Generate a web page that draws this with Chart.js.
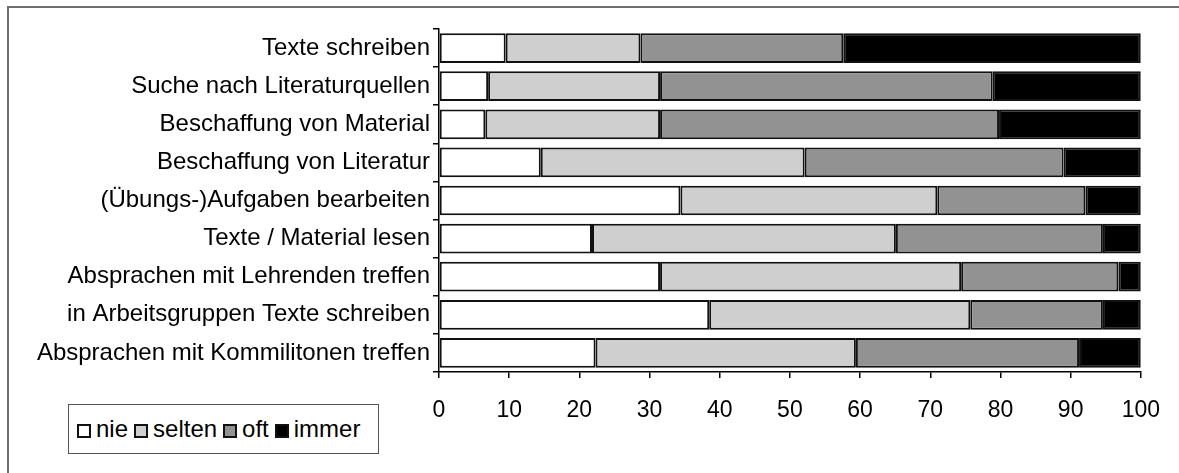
<!DOCTYPE html>
<html>
<head>
<meta charset="utf-8">
<script src="https://cdn.jsdelivr.net/npm/chart.js@4"></script>
<style>
  html, body { margin:0; padding:0; background:#fff; overflow:hidden; }
  #wrap { position:relative; width:1179px; height:473px; font-family:"Liberation Sans", Arial, sans-serif; }
  #rahmen { position:absolute; left:7px; top:6px; width:1300px; height:600px; border:2px solid #6e6e6e; box-sizing:border-box; }
  #chartCanvas { position:absolute; left:0; top:0; }
  #legende { position:absolute; left:68px; top:404px; width:311px; height:50px; border:1px solid #555; box-sizing:border-box; background:#fff;
    display:flex; align-items:center; padding-left:8px; font-size:24px; color:#000; white-space:nowrap; }
  #legende span.item { display:flex; align-items:center; margin-right:6px; }
  #legende span.box { display:inline-block; width:10px; height:10px; border:2px solid #111; margin-right:5px; margin-top:3px; }
</style>
</head>
<body>
<div id="wrap">
  <div id="rahmen"></div>
  <canvas id="chartCanvas" width="1179" height="473"></canvas>
  <div id="legende"></div>
</div>
<script>
const kategorien = [
  "Texte schreiben",
  "Suche nach Literaturquellen",
  "Beschaffung von Material",
  "Beschaffung von Literatur",
  "(Übungs-)Aufgaben bearbeiten",
  "Texte / Material lesen",
  "Absprachen mit Lehrenden treffen",
  "in Arbeitsgruppen Texte schreiben",
  "Absprachen mit Kommilitonen treffen"
];
const nie    = [9.5, 7.0, 6.6, 14.5, 34.4, 21.8, 31.5, 38.5, 22.3];
const selten = [19.2, 24.5, 24.9, 37.6, 36.6, 43.3, 42.9, 37.2, 37.1];
const oft    = [28.9, 47.4, 48.3, 36.9, 21.1, 29.5, 22.4, 18.9, 31.8];
const immer  = [42.4, 21.1, 20.2, 11.0, 7.9, 5.4, 3.2, 5.4, 8.8];
const serien = ["nie", "selten", "oft", "immer"];
const farben = ["#ffffff", "#cfcfcf", "#929292", "#000000"];
const xTicks = [0, 10, 20, 30, 40, 50, 60, 70, 80, 90, 100];

const werte = [nie, selten, oft, immer];
const datasets = serien.map((name, i) => ({
  label: name,
  data: werte[i],
  backgroundColor: farben[i],
  borderColor: "#111111",
  borderWidth: 2,
  borderSkipped: false,
  barPercentage: 0.78,
  categoryPercentage: 1.0
}));

const ctx = document.getElementById('chartCanvas').getContext('2d');
const chart = new Chart(ctx, {
  type: 'bar',
  data: { labels: kategorien, datasets: datasets },
  options: {
    indexAxis: 'y',
    responsive: false,
    animation: false,
    layout: { padding: { left: 0, top: 29, right: 36, bottom: 0 } },
    plugins: { legend: { display: false }, tooltip: { enabled: false } },
    scales: {
      x: {
        stacked: true,
        min: 0, max: 100,
        afterBuildTicks: s => { s.ticks = xTicks.map(v => ({ value: v })); },
        afterFit: s => { s.height = 101; },
        grid: { display: true, drawOnChartArea: false, drawTicks: true, tickLength: 6, color: '#000', lineWidth: 1.5 },
        border: { display: true, color: '#000', width: 1.5 },
        ticks: { color: '#000', font: { family: "'Liberation Sans', Arial, sans-serif", size: 23 }, padding: 19, maxRotation: 0 }
      },
      y: {
        stacked: true,
        afterFit: s => { s.width = 439; },
        grid: { display: true, drawOnChartArea: false, drawTicks: true, tickLength: 6, color: '#000', lineWidth: 1.5, offset: true },
        border: { display: true, color: '#000', width: 1.5 },
        ticks: { color: '#000', font: { family: "'Liberation Sans', Arial, sans-serif", size: 24 }, padding: 3, autoSkip: false }
      }
    }
  }
});

const legende = document.getElementById('legende');
serien.forEach((name, i) => {
  const item = document.createElement('span');
  item.className = 'item';
  item.innerHTML = `<span class="box" style="background:${farben[i]}"></span>${name}`;
  legende.appendChild(item);
});
</script>
</body>
</html>
